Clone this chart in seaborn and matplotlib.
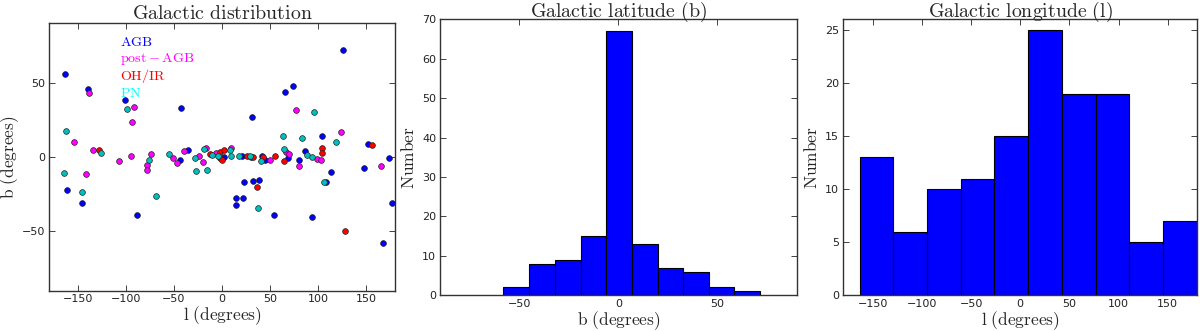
"""
Galactic distribution of the sample (AGB, post-AGB, OH/IR, PN)
"""

import numpy as np
import pandas as pd
import matplotlib
matplotlib.use("Agg")
import matplotlib.pyplot as plt
import seaborn as sns


# DATA

agb_l = [-163.0, -161.5, -139.0, -146.0, -100.7, -88.0, -42.4, -43.4, -35.0, 2.4,
         31.6, 21.1, 30.5, 22.6, 32.3, 38.5, 14.6, 14.9, 21.9, 53.8,
         41.7, 44.4, 66.0, 74.3, 69.1, 86.5, 80.5, 93.4, 104.2, 113.9,
         108.3, 126.2, 152.2, 147.5, 173.5, 177.0, 167.5]
agb_b = [56.0, -22.4, 45.4, -31.1, 38.3, -38.9, 32.9, -2.2, 4.9, -0.2,
         26.6, 0.9, 0.0, -16.6, -16.1, -15.2, -27.3, -32.4, -27.7, -38.9,
         0.7, -2.3, 43.7, 47.9, -0.9, 4.2, -1.8, -40.0, 13.8, -10.4,
         -17.0, 71.8, 8.7, -7.4, -0.5, -31.0, -57.7]

post_l = [-138.2, -91.4, -93.8, -153.9, -134.6, -107.0, -94.8, -78.5, -77.8, -73.3,
          -141.4, -51.1, -46.6, -39.3, -24.0, -19.8, -16.4, -6.6, 9.0, 49.6,
          66.6, 69.4, 79.8, 77.1, 99.0, 103.1, 123.6, 166.0]
post_b = [42.7, 33.8, 23.2, 10.2, 4.7, -2.7, 0.9, -5.6, -9.0, 1.7,
          -11.4, -0.5, -4.0, 4.2, 0.4, -3.2, 5.8, 2.9, 6.0, -2.3,
          3.1, 1.7, -6.3, 31.3, -1.3, -2.3, 16.9, -6.3]

ohir_l = [-128.3, -12.9, -1.8, -2.5, 0.3, 2.4, 26.0, 32.3, 42.3, 54.8,
          64.9, 103.8, 104.2, 36.0, 128.1, 156.0]
ohir_b = [4.7, 2.2, 3.3, -0.9, -1.8, 4.4, 0.9, 0.0, 0.0, 0.7,
          -2.7, 6.0, 2.7, -20.1, -49.7, 8.0]

pn_l = [-162.7, -125.4, -75.4, -164.0, -145.2, -68.8, -99.3, -55.6, -28.5, -27.5,
        -18.8, -15.3, -10.4, -4.3, 7.9, 9.7, 18.0, 28.8, 40.9, 63.1,
        64.2, 83.5, 88.9, 94.1, 105.8, 119.0, 96.1, 37.5]
pn_b = [17.8, 2.7, -2.3, -10.7, -23.8, -26.2, 32.2, 1.7, -0.5, -9.7,
        5.6, -8.5, 1.3, 0.4, 4.4, 0.7, 0.9, 0.4, -2.7, 14.3,
        5.4, 13.0, 1.3, 0.0, -17.0, 10.1, 29.9, -34.5]

# histograms (full sample, 10 bins each)
b_edges = [-58.3, -45.1, -32.1, -19.1, -6.2, 7.0, 19.8, 32.7, 45.6, 58.5, 71.5]
b_counts = [2, 8, 9, 15, 67, 13, 7, 6, 2, 1]

l_edges = [-163.5, -129.2, -94.9, -60.6, -26.3, 8.1, 42.4, 76.7, 111.0, 145.3, 179.6]
l_counts = [13, 6, 10, 11, 15, 25, 19, 19, 5, 7]

classes = ["AGB", "post-AGB", "OH/IR", "PN"]
point_colors = {"AGB": "#0000ff", "post-AGB": "#ff00ff", "OH/IR": "#ff0000", "PN": "#00bfbf"}
text_colors = {"AGB": "#0000ff", "post-AGB": "#ff00ff", "OH/IR": "#ff0000", "PN": "#00ffff"}
text_labels = {"AGB": r"$\mathrm{AGB}$", "post-AGB": r"$\mathrm{post-AGB}$",
               "OH/IR": r"$\mathrm{OH/IR}$", "PN": r"$\mathrm{PN}$"}

df = pd.concat([
    pd.DataFrame({"l": agb_l, "b": agb_b, "type": "AGB"}),
    pd.DataFrame({"l": post_l, "b": post_b, "type": "post-AGB"}),
    pd.DataFrame({"l": ohir_l, "b": ohir_b, "type": "OH/IR"}),
    pd.DataFrame({"l": pn_l, "b": pn_b, "type": "PN"}),
], ignore_index=True)


# STYLE (old matplotlib "classic" look)

sns.set_style("white")
plt.rcParams.update({
    "font.family": ["DejaVu Sans"],
    "mathtext.fontset": "cm",
    "axes.edgecolor": "#333333",
    "axes.linewidth": 1.0,
    "xtick.direction": "in",
    "ytick.direction": "in",
    "xtick.top": True,
    "ytick.right": True,
    "xtick.bottom": True,
    "ytick.left": True,
    "xtick.major.size": 4,
    "ytick.major.size": 4,
    "xtick.major.width": 0.6,
    "ytick.major.width": 0.6,
    "xtick.major.pad": 2.5,
    "ytick.major.pad": 3,
    "xtick.color": "#222222",
    "ytick.color": "#222222",
    "xtick.labelsize": 8,
    "ytick.labelsize": 8,
})

TITLE_FS = 14.3
LABEL_FS = 12.5
TAG_FS = 10.2

fig = plt.figure(figsize=(12, 3.31), dpi=100)
ax1 = fig.add_axes([0.0408, 0.1208, 0.2883, 0.8097])
ax2 = fig.add_axes([0.3669, 0.1078, 0.2970, 0.8340])
ax3 = fig.add_axes([0.7028, 0.1078, 0.2948, 0.8340])


# Galactic distribution (scatter)

for name in classes:
    sub = df[df["type"] == name]
    sns.scatterplot(data=sub, x="l", y="b", ax=ax1, color=point_colors[name],
                    s=17, edgecolor="#222222", linewidth=0.5, legend=False, zorder=3)

for i, name in enumerate(classes):
    ax1.text(0.205, 0.93 - i * 0.064, text_labels[name], color=text_colors[name],
             fontsize=TAG_FS, transform=ax1.transAxes, va="center", ha="left")

ax1.set_xlim(-180, 180)
ax1.set_ylim(-90, 90)
ax1.set_xticks([-150, -100, -50, 0, 50, 100, 150])
ax1.set_yticks([-50, 0, 50])
ax1.set_title(r"$\mathrm{Galactic\ distribution}$", fontsize=TITLE_FS, y=1.0, pad=3)
ax1.set_xlabel(r"$\mathrm{l\ (degrees)}$", fontsize=LABEL_FS, labelpad=0)
ax1.set_ylabel(r"$\mathrm{b\ (degrees)}$", fontsize=LABEL_FS, labelpad=0)


# Galactic latitude histogram

b_mid = [(b_edges[i] + b_edges[i + 1]) / 2 for i in range(len(b_counts))]
sns.histplot(x=b_mid, weights=b_counts, bins=b_edges, ax=ax2, color="#0000ff",
             edgecolor="black", linewidth=0.8, alpha=1.0)
ax2.set_xlim(-90, 90)
ax2.set_ylim(0, 70)
ax2.set_xticks([-50, 0, 50])
ax2.set_yticks(range(0, 71, 10))
ax2.set_title(r"$\mathrm{Galactic\ latitude\ (b)}$", fontsize=TITLE_FS, y=1.0, pad=2)
ax2.set_xlabel(r"$\mathrm{b\ (degrees)}$", fontsize=LABEL_FS, labelpad=0)
ax2.set_ylabel(r"$\mathrm{Number}$", fontsize=LABEL_FS, labelpad=3)


# Galactic longitude histogram

l_mid = [(l_edges[i] + l_edges[i + 1]) / 2 for i in range(len(l_counts))]
sns.histplot(x=l_mid, weights=l_counts, bins=l_edges, ax=ax3, color="#0000ff",
             edgecolor="black", linewidth=0.8, alpha=1.0)
ax3.set_xlim(-180, 180)
ax3.set_ylim(0, 26)
ax3.set_xticks([-150, -100, -50, 0, 50, 100, 150])
ax3.set_yticks(range(0, 26, 5))
ax3.set_title(r"$\mathrm{Galactic\ longitude\ (l)}$", fontsize=TITLE_FS, y=1.0, pad=2)
ax3.set_xlabel(r"$\mathrm{l\ (degrees)}$", fontsize=LABEL_FS, labelpad=0)
ax3.set_ylabel(r"$\mathrm{Number}$", fontsize=LABEL_FS, labelpad=3)

for ax in (ax1, ax2, ax3):
    ax.grid(False)

fig.savefig("out.png", dpi=100)
